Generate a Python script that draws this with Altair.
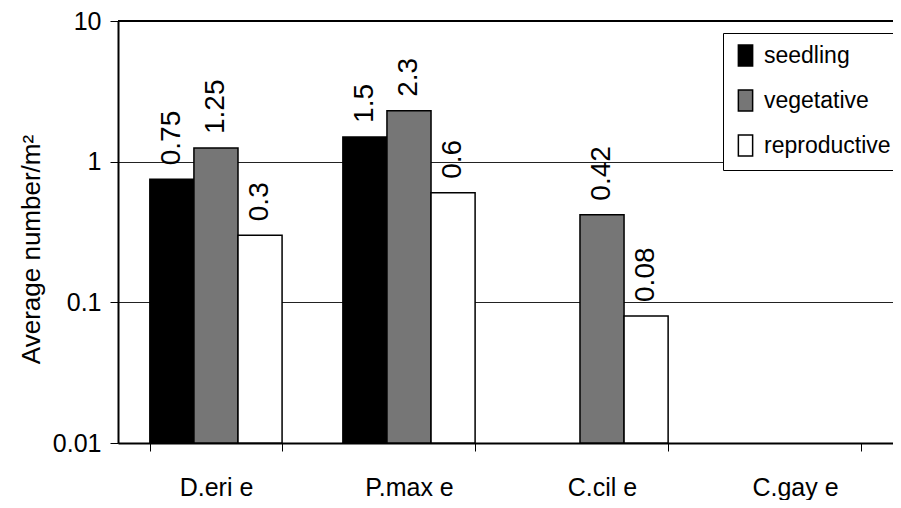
import altair as alt
import pandas as pd

species = ["D.eri e", "P.max e", "C.cil e", "C.gay e"]
stages = ["seedling", "vegetative", "reproductive"]
seedling = [0.75, 1.5, None, None]
vegetative = [1.25, 2.3, 0.42, None]
reproductive = [0.3, 0.6, 0.08, None]
stage_colors = ["#000000", "#767676", "#ffffff"]
y_ticks = [0.01, 0.1, 1, 10]

rows = []
for stage, vals in zip(stages, [seedling, vegetative, reproductive]):
    for sp, v in zip(species, vals):
        if v is not None:
            rows.append({"species": sp, "stage": stage, "value": v, "label": str(v)})
df = pd.DataFrame(rows)

FONT = "Liberation Sans, Arial, Helvetica"

x_enc = alt.X(
    "species:N",
    sort=species,
    scale=alt.Scale(domain=species, paddingInner=0.315, paddingOuter=0.165),
    axis=alt.Axis(
        title=None, labelAngle=0, tickBand="extent", labelFontSize=25,
        labelPadding=24, tickSize=8, tickColor="black", domainColor="black",
        domainWidth=2, labelColor="black", grid=False, labelFont=FONT,
    ),
)
xoff = alt.XOffset("stage:N", sort=stages, scale=alt.Scale(domain=stages))
y_scale = alt.Scale(type="log", domain=[0.01, 10])
y_enc = alt.Y(
    "value:Q",
    scale=y_scale,
    axis=alt.Axis(
        title="Average number/m²", values=y_ticks, format="~g",
        labelFontSize=25, titleFontSize=26, titleFontWeight="normal",
        labelColor="black", titleColor="black", tickColor="black", tickSize=8,
        domainColor="black", domainWidth=2, grid=True, gridColor="#222222",
        gridWidth=1, labelPadding=9, titlePadding=8, labelFont=FONT,
        titleFont=FONT, titleY=228,
    ),
)

bars = alt.Chart(df).mark_bar(stroke="black", strokeWidth=1.5).encode(
    x=x_enc,
    xOffset=xoff,
    y=y_enc,
    y2=alt.datum(0.01),
    color=alt.Color(
        "stage:N",
        scale=alt.Scale(domain=stages, range=stage_colors),
        legend=alt.Legend(
            title=None, orient="none", legendX=605, legendY=12,
            strokeColor="black", fillColor="white", padding=11,
            labelFontSize=23, labelFont=FONT, labelColor="black",
            symbolType="M-0.68,-1H0.68V1H-0.68Z", symbolSize=440,
            symbolStrokeColor="black", symbolStrokeWidth=1.5,
            rowPadding=18, labelOffset=7, labelLimit=200,
        ),
    ),
)

labels = alt.Chart(df).mark_text(
    angle=270, align="left", baseline="middle", dx=14, fontSize=28,
    font=FONT, color="black",
).encode(x=x_enc, xOffset=xoff, y=y_enc, text="label:N")

top_rule = alt.Chart(df).mark_rule(color="black", strokeWidth=2).encode(
    y=alt.datum(10)
)

chart = (
    alt.layer(bars, labels, top_rule)
    .properties(
        width=775, height=422,
        autosize=alt.AutoSizeParams(type="none"),
        padding={"left": 110, "top": 13, "right": 0, "bottom": 57},
    )
    .configure_view(stroke=None)
    .configure(background="white")
)

chart.save("out.html", embed_options={"renderer": "svg", "actions": False})
